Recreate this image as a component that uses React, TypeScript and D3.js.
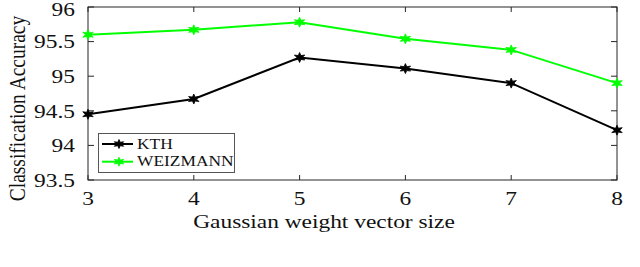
import React from "react";
import * as d3 from "d3";

const xValues = [3, 4, 5, 6, 7, 8];
const kth = [94.45, 94.67, 95.27, 95.11, 94.9, 94.22];
const weizmann = [95.6, 95.67, 95.78, 95.54, 95.38, 94.9];
const yTicks = [93.5, 94, 94.5, 95, 95.5, 96];
const seriesNames = ["KTH", "WEIZMANN"];
const seriesColors = ["#000000", "#00ff00"];

const W = 640, H = 267;
const m = { left: 88, right: 617, top: 7, bottom: 180 };
const SX = 1.2;

function star(cx: number, cy: number, r: number) {
  const pts: string[] = [];
  for (let i = 0; i < 12; i++) {
    const a = (Math.PI / 6) * i - Math.PI / 2;
    const rr = i % 2 === 0 ? r : r * 0.45;
    pts.push(`${cx + rr * SX * Math.cos(a)},${cy + rr * Math.sin(a)}`);
  }
  return `M${pts.join("L")}Z`;
}

const font = "Liberation Serif, Times New Roman, serif";

function T(props: { x: number; y: number; size: number; anchor?: string; rotate?: number; children: React.ReactNode }) {
  const { x, y, size, anchor = "start", rotate = 0, children } = props;
  return (
    <text
      transform={`translate(${x},${y}) scale(${SX},1)${rotate ? ` rotate(${rotate})` : ""}`}
      textAnchor={anchor}
      fontSize={size}
      fill="#111"
      style={{ fontFamily: font }}
    >
      {children}
    </text>
  );
}

export default function App() {
  const x = d3.scaleLinear().domain([3, 8]).range([m.left, m.right]);
  const y = d3.scaleLinear().domain([93.5, 96]).range([m.bottom, m.top]);
  const line = d3.line<number>().x((_, i) => x(xValues[i])).y((d) => y(d));
  const data = [kth, weizmann];
  const axisColor = "#262626";
  const tl = 5;
  return (
    <svg width={W} height={H} style={{ position: "absolute", left: 0, top: 0, background: "#fff" }}>
      <rect x={m.left} y={m.top} width={m.right - m.left} height={m.bottom - m.top} fill="none" stroke={axisColor} strokeWidth={1} />
      {xValues.map((v) => (
        <g key={"x" + v}>
          <line x1={x(v)} x2={x(v)} y1={m.bottom} y2={m.bottom - tl} stroke={axisColor} />
          <line x1={x(v)} x2={x(v)} y1={m.top} y2={m.top + tl} stroke={axisColor} />
          <T x={x(v)} y={205} size={19.5} anchor="middle">{v}</T>
        </g>
      ))}
      {yTicks.map((v) => (
        <g key={"y" + v}>
          <line x1={m.left} x2={m.left + tl * SX} y1={y(v)} y2={y(v)} stroke={axisColor} />
          <line x1={m.right} x2={m.right - tl * SX} y1={y(v)} y2={y(v)} stroke={axisColor} />
          <T x={75} y={Math.max(y(v) + 6.7, 16)} size={19.5} anchor="end">{v}</T>
        </g>
      ))}
      <T x={324} y={228} size={19.5} anchor="middle">Gaussian weight vector size</T>
      <T x={24.5} y={108.5} size={19.5} anchor="middle" rotate={-90}>Classification Accuracy</T>
      {data.map((s, si) => (
        <g key={"s" + si}>
          <path d={line(s) || ""} fill="none" stroke={seriesColors[si]} strokeWidth={2} />
          {s.map((v, i) => (
            <path key={i} d={star(x(xValues[i]), y(v), 5)} fill={seriesColors[si]} stroke={seriesColors[si]} strokeWidth={0.8} />
          ))}
        </g>
      ))}
      <rect x={98.5} y={133.5} width={136} height={39} fill="#fff" stroke="#555" strokeWidth={1} />
      {seriesNames.map((n, i) => {
        const ly = 144 + i * 17.7;
        return (
          <g key={n}>
            <line x1={102} x2={133} y1={ly} y2={ly} stroke={seriesColors[i]} strokeWidth={2} />
            <path d={star(119, ly, 4.5)} fill={seriesColors[i]} stroke={seriesColors[i]} strokeWidth={0.8} />
            <T x={137} y={ly + 4.5} size={14.5}>{n}</T>
          </g>
        );
      })}
    </svg>
  );
}
